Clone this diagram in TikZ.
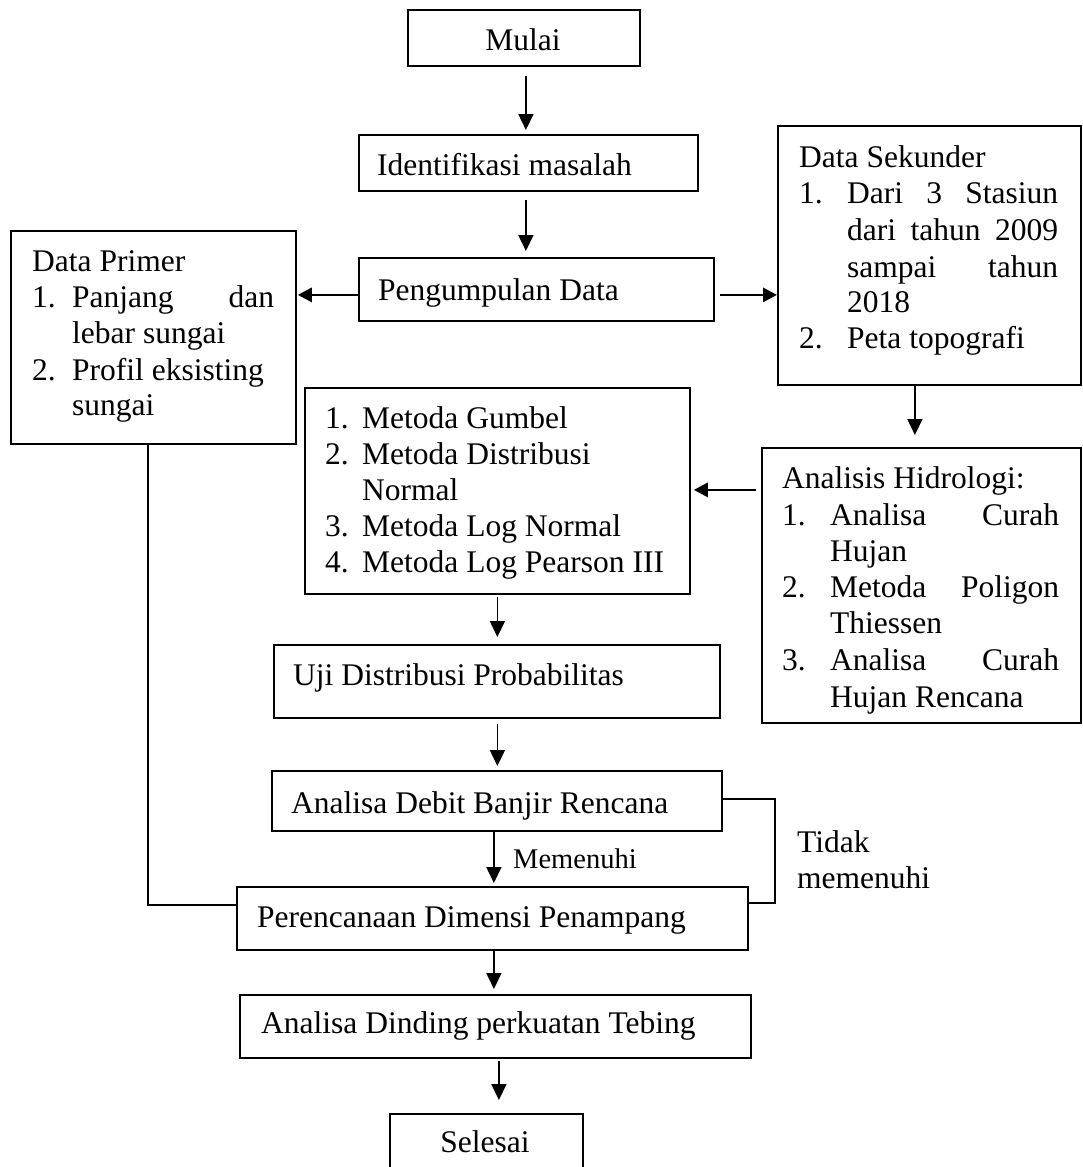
\documentclass[tikz,border=0pt]{standalone}
\usepackage{fontspec}
\setmainfont{Liberation Serif}
\usetikzlibrary{arrows.meta}
\begin{document}
\begin{tikzpicture}[x=1pt,y=-1pt,
  box/.style={draw, line width=1.8pt, anchor=north west, inner sep=0pt},
  txt/.style={anchor=base west, inner sep=0pt, font=\fontsize{31.5}{36.5}\selectfont},
  smalltxt/.style={anchor=base west, inner sep=0pt, font=\fontsize{28.5}{34}\selectfont},
  arr/.style={line width=1.7pt, -{Triangle[length=16pt,width=15pt]}},
  harr/.style={line width=2.8pt, -{Triangle[length=14pt,width=14pt]}},
  conn/.style={line width=1.7pt}]
\useasboundingbox (0,0) rectangle (1082,1167);
\clip (0,0) rectangle (1082,1167);

% boxes
\node[box, minimum width=232pt, minimum height=56pt] (mulai) at (407,9) {};
\node[box, minimum width=339pt, minimum height=56pt] (ident) at (358,134) {};
\node[box, minimum width=355pt, minimum height=63pt] (peng) at (358,257) {};
\node[box, minimum width=285pt, minimum height=213pt] (primer) at (10,230) {};
\node[box, minimum width=303pt, minimum height=259pt] (sekunder) at (777,125) {};
\node[box, minimum width=385pt, minimum height=206pt] (metode) at (304,387) {};
\node[box, minimum width=319pt, minimum height=275pt] (hidro) at (761,447) {};
\node[box, minimum width=446pt, minimum height=73pt] (uji) at (273,644) {};
\node[box, minimum width=450pt, minimum height=60pt] (debit) at (271,770) {};
\node[box, minimum width=511pt, minimum height=63pt] (perenc) at (236,886) {};
\node[box, minimum width=511pt, minimum height=63pt] (dinding) at (239,994) {};
\node[box, minimum width=193pt, minimum height=70pt] (selesai) at (389,1113) {};

% single-line texts
\node[txt, anchor=base] (tmulai) at (523,50) {Mulai};
\node[txt] (tident) at (377,175) {Identifikasi masalah};
\node[txt] (tpeng) at (378,300) {Pengumpulan Data};
\node[txt] (tuji) at (293,685) {Uji Distribusi Probabilitas};
\node[txt] (tdebit) at (291,813) {Analisa Debit Banjir Rencana};
\node[txt] (tperenc) at (257,927) {Perencanaan Dimensi Penampang};
\node[txt] (tdinding) at (261,1033) {Analisa Dinding perkuatan Tebing};
\node[txt, anchor=base] (tselesai) at (485,1152) {Selesai};

% Data Primer
\node[txt] (p0) at (32,271) {Data Primer};
\node[txt] (p1n) at (32,307) {1.};
\node[txt] (p1a) at (72,307) {\makebox[202pt][s]{Panjang dan}};
\node[txt] (p1b) at (72,343) {lebar sungai};
\node[txt] (p2n) at (32,380) {2.};
\node[txt] (p2a) at (72,380) {Profil eksisting};
\node[txt] (p2b) at (72,415) {sungai};

% Data Sekunder
\node[txt] (s0) at (799,167) {Data Sekunder};
\node[txt] (s1n) at (799,203) {1.};
\node[txt] (s1a) at (847,203) {\makebox[211pt][s]{Dari 3 Stasiun}};
\node[txt] (s1b) at (847,240) {\makebox[211pt][s]{dari tahun 2009}};
\node[txt] (s1c) at (847,277) {\makebox[211pt][s]{sampai tahun}};
\node[txt] (s1d) at (847,312) {2018};
\node[txt] (s2n) at (799,348) {2.};
\node[txt] (s2a) at (847,348) {Peta topografi};

% Metode
\node[txt] (m1n) at (325,428) {1.};
\node[txt] (m1a) at (362,428) {Metoda Gumbel};
\node[txt] (m2n) at (325,464) {2.};
\node[txt] (m2a) at (362,464) {Metoda Distribusi};
\node[txt] (m2b) at (362,500) {Normal};
\node[txt] (m3n) at (325,536) {3.};
\node[txt] (m3a) at (362,536) {Metoda Log Normal};
\node[txt] (m4n) at (325,572) {4.};
\node[txt] (m4a) at (362,572) {Metoda Log Pearson III};

% Analisis Hidrologi
\node[txt] (h0) at (782,488) {Analisis Hidrologi:};
\node[txt] (h1n) at (782,525) {1.};
\node[txt] (h1a) at (830,525) {\makebox[229pt][s]{Analisa Curah}};
\node[txt] (h1b) at (830,561) {Hujan};
\node[txt] (h2n) at (782,597) {2.};
\node[txt] (h2a) at (830,597) {\makebox[229pt][s]{Metoda Poligon}};
\node[txt] (h2b) at (830,633) {Thiessen};
\node[txt] (h3n) at (782,670) {3.};
\node[txt] (h3a) at (830,670) {\makebox[229pt][s]{Analisa Curah}};
\node[txt] (h3b) at (830,707) {Hujan Rencana};

% labels
\node[smalltxt] (lmem) at (513,868) {Memenuhi};
\node[txt] (ltid1) at (797,852) {Tidak};
\node[txt] (ltid2) at (797,888) {memenuhi};

% helper coordinates
\coordinate (pw) at ([yshift=-5.5pt]peng.west);
\coordinate (pe) at ([yshift=-5.5pt]peng.east);
\coordinate (ss) at ([xshift=-14.5pt]sekunder.south);
\coordinate (hw) at ([yshift=95.5pt]hidro.west);
\coordinate (ds) at ([xshift=-3pt]debit.south);
\coordinate (dd) at ([xshift=3.5pt]dinding.south);
\coordinate (ps) at ([xshift=-5.5pt]primer.south);
\coordinate (pl) at ([yshift=13.5pt]perenc.west);

% arrows
\draw[arr, shorten <=9pt, shorten >=4pt] ([xshift=2pt]mulai.south) -- ([xshift=-2.5pt]ident.north);
\draw[arr, shorten <=8pt, shorten >=6pt] ([xshift=-2.5pt]ident.south) -- ([xshift=-10.5pt]peng.north);
\draw[harr, shorten >=1pt] (pw) -- (pw -| primer.east);
\draw[harr, shorten <=5pt] (pe) -- (pe -| sekunder.west);
\draw[arr, shorten >=12pt] (ss) -- (ss |- hidro.north);
\draw[harr, shorten <=5pt, shorten >=3pt] (hw) -- (hw -| metode.east);
\draw[arr, shorten <=2pt, shorten >=7pt] (metode.south) -- (metode.south |- uji.north);
\draw[arr, shorten <=5pt, shorten >=4pt] (uji.south -| metode.south) -- (debit.north -| metode.south);
\draw[arr, shorten >=3pt] (ds) -- (ds |- perenc.north);
\draw[arr, shorten >=5pt] (ds |- perenc.south) -- (ds |- dinding.north);
\draw[arr, shorten <=2pt, shorten >=13pt] (dd) -- (dd |- selesai.north);

% connectors without heads
\draw[conn] (ps) |- (pl);
\draw[conn] ([yshift=2pt]debit.east) -- ++(52,0) |- ([yshift=15.5pt]perenc.east);
\end{tikzpicture}
\end{document}
